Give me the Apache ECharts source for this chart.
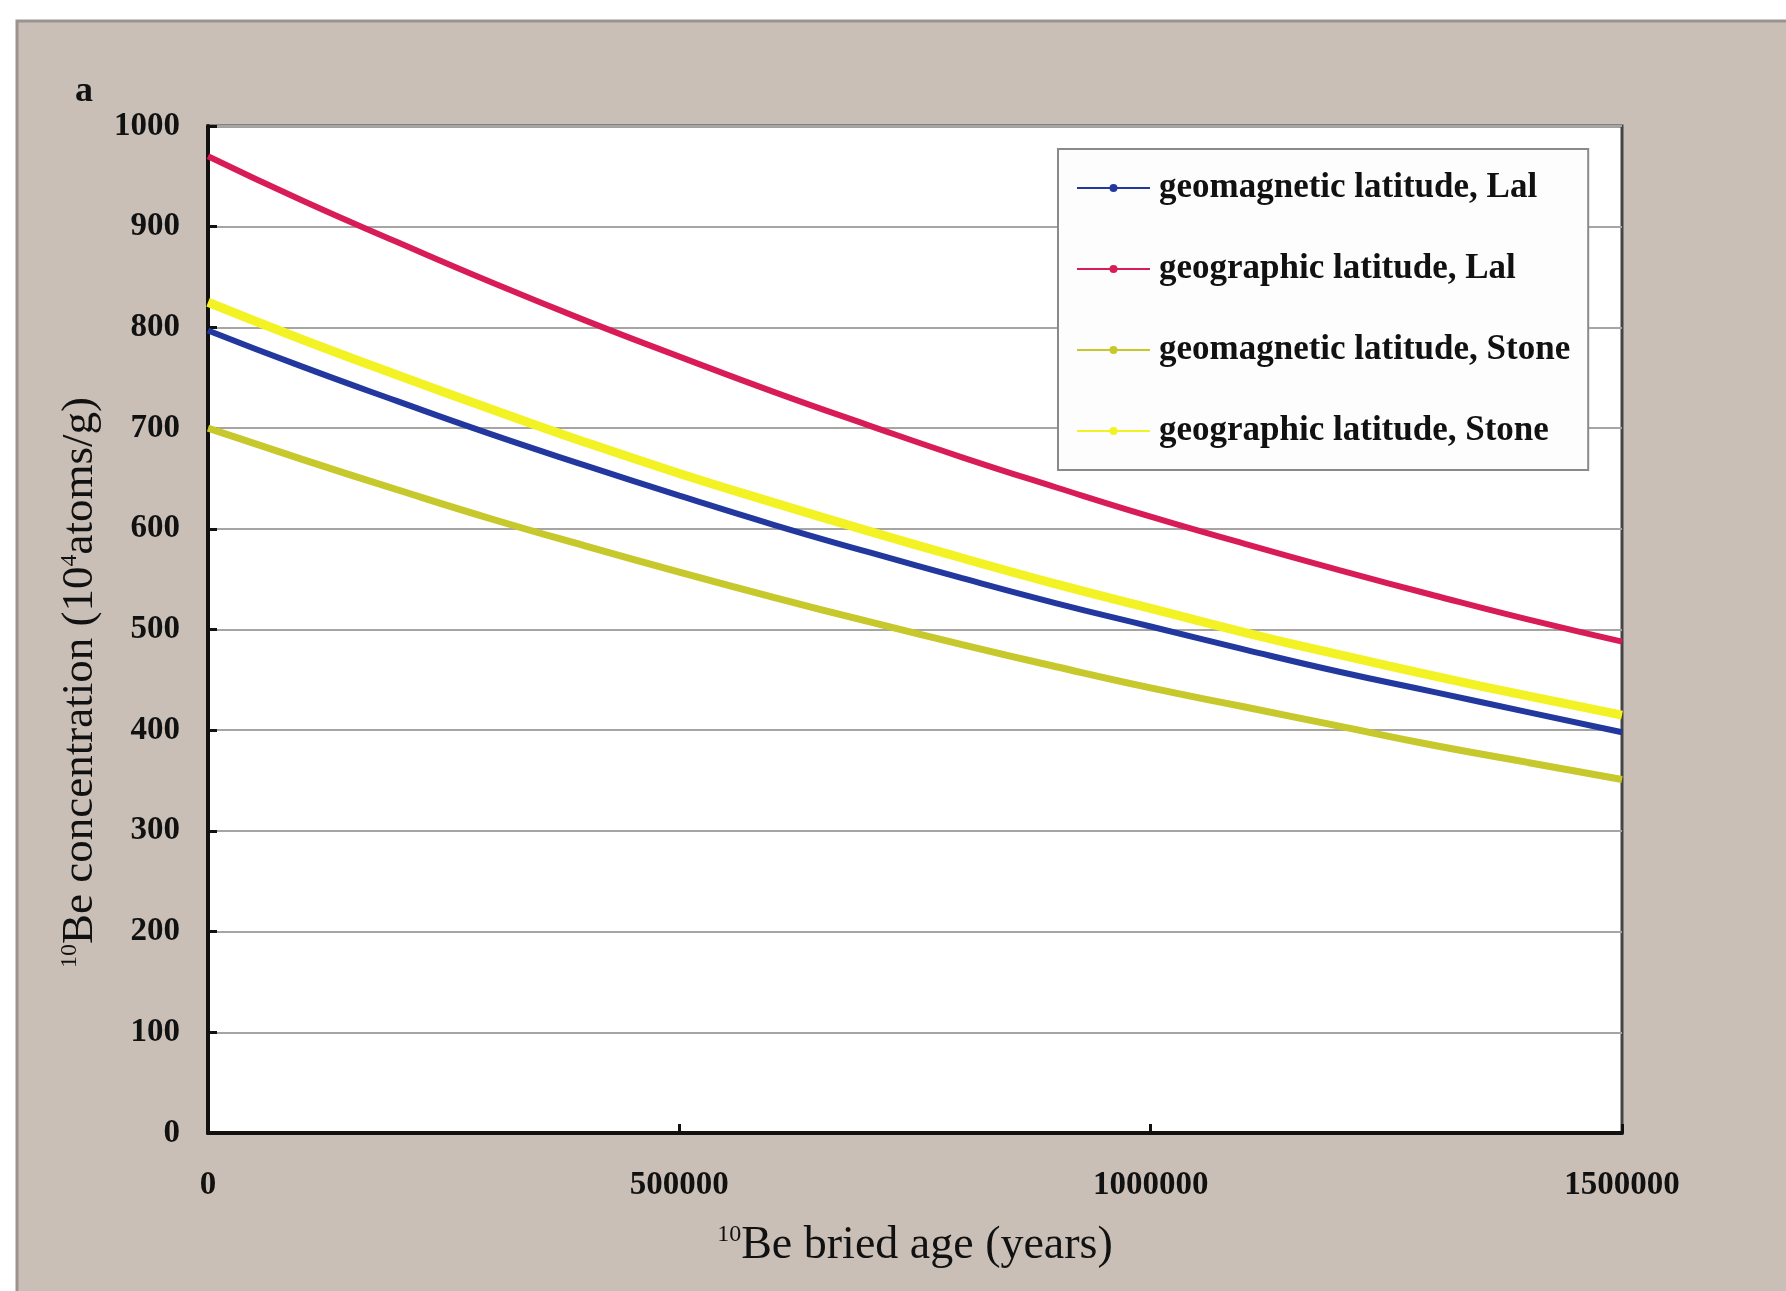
<!DOCTYPE html>
<html>
<head>
<meta charset="utf-8">
<script src="https://cdn.jsdelivr.net/npm/echarts@6/dist/echarts.min.js"></script>
<style>
html,body{margin:0;padding:0;background:#fff;}
#chart{width:1786px;height:1291px;}
</style>
</head>
<body>
<div id="chart"></div>
<script>
// Ages (years) at which the curves were read
var ages = [0, 100000, 200000, 300000, 400000, 500000, 600000, 700000, 800000, 900000, 1000000, 1100000, 1200000, 1300000, 1400000, 1500000];
// 10Be concentration (10^4 atoms/g)
var geomagLal   = [797, 761, 727, 694, 663, 633, 604, 577, 551, 526, 503, 480, 458, 438, 418, 398];
var geographLal = [970, 926, 885, 845, 807, 771, 736, 703, 671, 641, 612, 585, 559, 534, 510, 488];
var geomagStone = [700, 669, 639, 610, 583, 557, 532, 508, 485, 463, 442, 423, 404, 385, 368, 351];
var geographStone = [825, 788, 753, 719, 686, 655, 626, 598, 571, 545, 521, 497, 475, 454, 434, 415];
var seriesNames = ['geomagnetic latitude, Lal', 'geographic latitude, Lal', 'geomagnetic latitude, Stone', 'geographic latitude, Stone'];
var xTicks = [0, 500000, 1000000, 1500000];
var yTicks = [0, 100, 200, 300, 400, 500, 600, 700, 800, 900, 1000];

function pairs(vals){ return ages.map(function(a,i){ return [a, vals[i]]; }); }

var FONT = '"Liberation Serif", "DejaVu Serif", serif';
var chart = echarts.init(document.getElementById('chart'));

function mk(name, vals, color, width){
  return {
    name: name, type: 'line', data: pairs(vals), smooth: true,
    symbol: 'circle', symbolSize: 4, showSymbol: false,
    lineStyle: {color: color, width: width},
    itemStyle: {color: color},
    z: 5
  };
}

chart.setOption({
  animation: false,
  backgroundColor: '#ffffff',
  textStyle: {fontFamily: FONT},
  graphic: [
    {type: 'rect', z: -10, silent: true,
     shape: {x: 17, y: 21, width: 1786, height: 1291},
     style: {fill: '#c9bfb7', stroke: '#9a938e', lineWidth: 3}},
    {type: 'text', left: 75, top: 74, z: 10,
     style: {text: 'a', font: 'bold 36px ' + FONT, fill: '#111'}}
  ],
  grid: {left: 208, top: 126, right: 164, bottom: 158, show: true,
         backgroundColor: '#ffffff', borderColor: '#444', borderWidth: 3},
  legend: {
    orient: 'vertical', left: 1058, top: 149,
    backgroundColor: '#fdfdfd', borderColor: '#8a8a8a', borderWidth: 2,
    padding: [17, 18, 17, 18],
    itemWidth: 73, itemHeight: 10, itemGap: 37,
    textStyle: {fontFamily: FONT, fontSize: 35, fontWeight: 'bold', color: '#111', lineHeight: 44, padding: [0, 0, 0, 4]},
    data: seriesNames
  },
  xAxis: {
    type: 'value', min: 0, max: 1500000, interval: 500000,
    axisLine: {show: true, onZero: false, lineStyle: {color: '#111', width: 4}},
    axisTick: {show: true, inside: true, length: 9, lineStyle: {color: '#111', width: 3}},
    splitLine: {show: false},
    axisLabel: {margin: 36, fontFamily: FONT, fontSize: 33, fontWeight: 'bold', color: '#111',
      formatter: function(v){ return xTicks.indexOf(v) >= 0 ? String(v) : ''; }},
    name: '{sup|10}Be bried age (years)',
    nameLocation: 'middle', nameGap: 90,
    nameTextStyle: {fontFamily: FONT, fontSize: 46, color: '#111',
      rich: {sup: {fontSize: 24, verticalAlign: 'top', padding: [0, 0, 20, 0], fontFamily: FONT, color: '#111'}}}
  },
  yAxis: {
    type: 'value', min: 0, max: 1000, interval: 100,
    axisLine: {show: true, onZero: false, lineStyle: {color: '#111', width: 4}},
    axisTick: {show: true, inside: true, length: 9, lineStyle: {color: '#111', width: 3}},
    splitLine: {show: true, lineStyle: {color: '#a7a4a4', width: 2}},
    axisLabel: {margin: 28, fontFamily: FONT, fontSize: 33, fontWeight: 'bold', color: '#111',
      formatter: function(v){ return yTicks.indexOf(v) >= 0 ? String(v) : ''; }},
    name: '{sup|10}Be concentration (10{sup|4}atoms/g)',
    nameLocation: 'middle', nameGap: 102, nameRotate: 90,
    nameTextStyle: {fontFamily: FONT, fontSize: 45, color: '#111', padding: [0, 106, 0, 0],
      rich: {sup: {fontSize: 24, verticalAlign: 'top', padding: [0, 0, 20, 0], fontFamily: FONT, color: '#111'}}}
  },
  series: [
    mk(seriesNames[0], geomagLal, '#23389f', 6),
    mk(seriesNames[1], geographLal, '#d81c58', 6),
    mk(seriesNames[2], geomagStone, '#c6c82c', 7),
    mk(seriesNames[3], geographStone, '#f2f224', 9)
  ]
});
</script>
</body>
</html>
